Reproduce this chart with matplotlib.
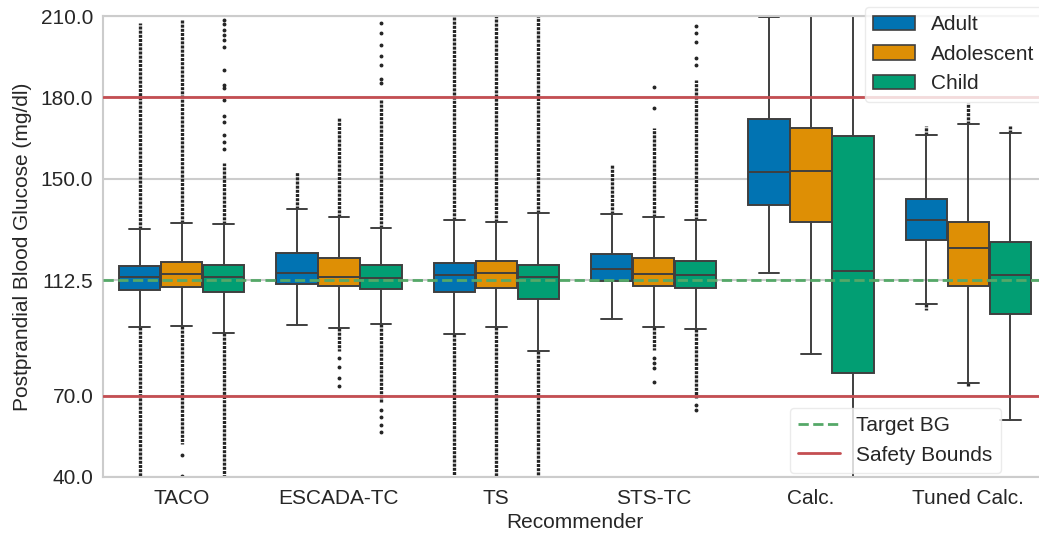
import matplotlib
matplotlib.use("Agg")
import matplotlib.pyplot as plt
import matplotlib.patches as mpatches
import matplotlib.lines as mlines
import seaborn as sns

sns.set_style("whitegrid")
plt.rcParams['font.family'] = ['Liberation Sans', 'DejaVu Sans']

# data (mg/dl)
recommenders = ['TACO', 'ESCADA-TC', 'TS', 'STS-TC', 'Calc.', 'Tuned Calc.']
groups = ['Adult', 'Adolescent', 'Child']

# per group: one value per recommender
q1 = {
    'Adult':      [109.0, 111.3, 108.2, 112.4, 140.4, 127.3],
    'Adolescent': [110.0, 110.3, 109.7, 110.4, 133.9, 110.4],
    'Child':      [108.1, 109.3, 105.5, 109.6, 78.5, 100.0],
}
median = {
    'Adult':      [113.9, 115.3, 114.6, 116.6, 152.5, 134.9],
    'Adolescent': [114.8, 113.8, 115.1, 115.0, 152.8, 124.3],
    'Child':      [113.9, 113.3, 113.8, 114.6, 116.0, 114.4],
}
q3 = {
    'Adult':      [117.9, 122.5, 118.8, 122.1, 171.9, 142.6],
    'Adolescent': [119.3, 120.7, 119.5, 120.7, 168.8, 134.2],
    'Child':      [118.3, 118.3, 118.2, 119.8, 165.9, 126.8],
}
whisker_lo = {
    'Adult':      [95.4, 96.1, 92.6, 98.2, 115.3, 103.8],
    'Adolescent': [95.8, 95.0, 95.4, 95.2, 85.4, 74.8],
    'Child':      [93.2, 96.3, 86.5, 94.6, 30.0, 61.1],
}
whisker_hi = {
    'Adult':      [131.3, 138.8, 134.8, 136.9, 209.5, 166.1],
    'Adolescent': [133.6, 136.0, 134.2, 136.0, 225.0, 170.0],
    'Child':      [133.4, 131.8, 137.5, 134.8, 225.0, 167.0],
}
# dense runs of outliers: (from, to), None where there are none
dense_hi = {
    'Adult':      [(131.3, 207.4), (138.8, 152.4), (134.8, 210.0), (136.9, 155.1), None, (166.1, 169.4)],
    'Adolescent': [(133.6, 209.0), (136.0, 172.3), (134.2, 210.0), (136.0, 168.8), None, (170.0, 177.8)],
    'Child':      [(133.4, 155.8), (131.8, 179.0), (137.5, 210.0), (134.8, 186.4), None, (167.0, 169.4)],
}
dense_lo = {
    'Adult':      [(95.4, 40.0), None, (92.6, 40.0), None, None, (103.8, 101.6)],
    'Adolescent': [(95.8, 52.0), (95.0, 86.5), (95.4, 40.5), (95.2, 86.8), None, (74.8, 73.3)],
    'Child':      [(93.2, 40.0), (96.3, 67.3), (86.5, 40.0), (94.6, 69.1), None, None],
}
# isolated outliers
sparse = {
    'Adult':      [[], [], [], [], [], []],
    'Adolescent': [[48.1, 40.5],
                   [83.9, 80.7, 76.6, 73.7],
                   [],
                   [176.0, 183.7, 83.9, 82.0, 80.2, 75.2],
                   [], []],
    'Child':      [[161.0, 163.5, 166.0, 171.0, 173.0, 179.0, 183.5, 184.5, 190.0,
                    198.7, 201.0, 203.0, 205.0, 207.0, 208.5],
                   [185.2, 186.8, 191.9, 195.4, 199.3, 203.6, 207.5, 64.7, 62.3, 59.2, 56.7],
                   [],
                   [191.9, 194.4, 200.5, 203.6, 206.3, 66.5, 64.7],
                   [], []],
}

target_bg = 112.5
safety_bounds = [70.0, 180.0]

colors = ['#0173b2', '#de8f05', '#029e73']
edge = '#3f3f3f'
flier_c = '#262626'

fig = plt.figure(figsize=(10.39, 5.37), dpi=100)
ax = fig.add_axes([103 / 1039, 1 - 477 / 537, (1047 - 103) / 1039, (477 - 16) / 537])

box_w = 0.8 / 3
for gi, g in enumerate(groups):
    offset = (gi - 1) * box_w
    stats = []
    for ri in range(len(recommenders)):
        stats.append(dict(med=median[g][ri], q1=q1[g][ri], q3=q3[g][ri],
                          whislo=whisker_lo[g][ri], whishi=whisker_hi[g][ri],
                          fliers=sparse[g][ri]))
    pos = [ri + offset for ri in range(len(recommenders))]
    ax.bxp(stats, positions=pos, widths=box_w * 0.98, patch_artist=True,
           showfliers=True, manage_ticks=False,
           boxprops=dict(facecolor=colors[gi], edgecolor=edge, linewidth=1.4),
           medianprops=dict(color=edge, linewidth=1.4),
           whiskerprops=dict(color=edge, linewidth=1.4),
           capprops=dict(color=edge, linewidth=1.4),
           flierprops=dict(marker='o', markersize=1.8, markerfacecolor=flier_c,
                           markeredgecolor=flier_c, linestyle='none'))
    # dense outlier runs
    for ri in range(len(recommenders)):
        for seg in (dense_hi[g][ri], dense_lo[g][ri]):
            if seg is None:
                continue
            ax.vlines(pos[ri], seg[0], seg[1], colors=flier_c, linewidth=2.4,
                      linestyles=(0, (0.9, 0.35)), zorder=1.5)

ax.axhline(target_bg, color='#55a868', linestyle='--', linewidth=2, zorder=4)
for b in safety_bounds:
    ax.axhline(b, color='#c44e52', linewidth=2, zorder=4)

ax.set_xlim(-0.5, len(recommenders) - 0.5)
ax.set_ylim(40, 210)
ax.set_yticks([40, 70, 112.5, 150, 180, 210])
ax.set_yticklabels(['40.0', '70.0', '112.5', '150.0', '180.0', '210.0'])
ax.set_xticks(range(len(recommenders)))
ax.set_xticklabels(recommenders)
ax.tick_params(axis='both', labelsize=15, pad=7, length=0)
ax.tick_params(axis='x', pad=8.5)
ax.xaxis.grid(False)
ax.yaxis.grid(True, color='#cccccc', linewidth=1.5)
for s in ax.spines.values():
    s.set_color('#cccccc')
    s.set_linewidth(1.5)
ax.set_xlabel('Recommender', fontsize=15, labelpad=4)
ax.set_ylabel('Postprandial Blood Glucose (mg/dl)', fontsize=15, labelpad=6)

# legends
hue_handles = [mpatches.Patch(facecolor=c, edgecolor=edge, linewidth=1.2, label=g)
               for c, g in zip(colors, groups)]
leg1 = ax.legend(handles=hue_handles, loc='upper right', fontsize=15,
                 bbox_to_anchor=(1043 / 1039, 1 - 7 / 537), bbox_transform=fig.transFigure,
                 borderaxespad=0, handlelength=2.0, framealpha=0.8, edgecolor='#e6e6e6')
ax.add_artist(leg1)
line_handles = [mlines.Line2D([], [], color='#55a868', linestyle='--', linewidth=2, label='Target BG'),
                mlines.Line2D([], [], color='#c44e52', linewidth=2, label='Safety Bounds')]
ax.legend(handles=line_handles, loc='lower right', fontsize=15,
          bbox_to_anchor=(1001 / 1039, 1 - 473 / 537), bbox_transform=fig.transFigure,
          borderaxespad=0, handlelength=2.0, framealpha=0.8, edgecolor='#e6e6e6')

fig.savefig('out.png', dpi=100)
